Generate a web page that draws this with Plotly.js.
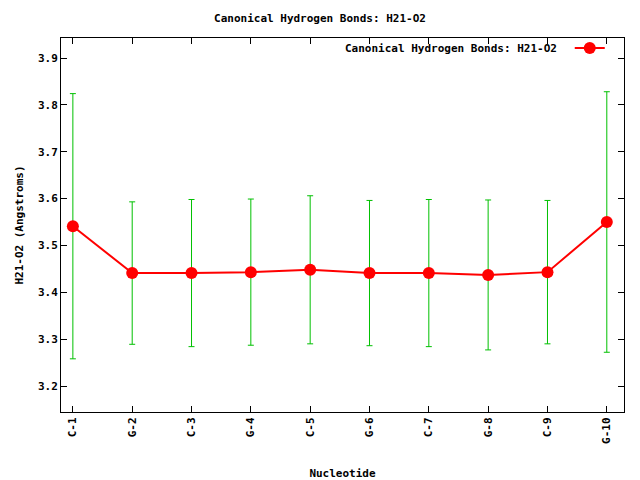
<!DOCTYPE html>
<html>
<head>
<meta charset="utf-8">
<script src="https://cdn.plot.ly/plotly-3.0.1.min.js"></script>
<style>body{margin:0;padding:0;background:#fff;}#chart{width:640px;height:480px;}</style>
</head>
<body>
<div id="chart"></div>
<script>
const nucleotides = ["C-1","G-2","C-3","G-4","C-5","G-6","C-7","G-8","C-9","G-10"];
const positions = [1,2,3,4,5,6,7,8,9,10];
const meanDist = [3.541,3.441,3.441,3.443,3.448,3.441,3.441,3.437,3.443,3.550];
const stdDev = [0.283,0.152,0.157,0.156,0.158,0.155,0.157,0.160,0.153,0.278];
const seriesName = "Canonical Hydrogen Bonds: H21-O2";

const F = "DejaVu Sans Mono, monospace";
const font = {family: F, size: 11, color: "#000", weight: "bold"};

const traces = [
  {
    x: positions, y: meanDist, type: "scatter", mode: "markers",
    marker: {size: 0.1, color: "rgba(0,0,0,0)"},
    error_y: {type: "data", array: stdDev, visible: true, color: "#00c000", thickness: 1, width: 3},
    showlegend: false, hoverinfo: "skip"
  },
  {
    x: positions, y: meanDist, type: "scatter", mode: "lines+markers",
    name: " ",
    line: {color: "#ff0000", width: 2},
    marker: {color: "#ff0000", size: 12, symbol: "circle"},
    showlegend: true
  }
];

const axisCommon = {
  showline: true, linecolor: "#000", linewidth: 1, mirror: "ticks",
  ticks: "inside", ticklen: 6, tickcolor: "#000", tickwidth: 1,
  showgrid: false, zeroline: false, tickfont: font
};

const layout = {
  width: 640, height: 480,
  margin: {l: 61, r: 16, t: 38, b: 68},
  paper_bgcolor: "#fff", plot_bgcolor: "#fff",
  font: font,
  title: {text: seriesName, font: font, x: 0.5, xanchor: "center", y: 0.962, yanchor: "middle"},
  xaxis: Object.assign({}, axisCommon, {
    range: [0.8, 10.29], tickmode: "array", tickvals: positions, ticktext: nucleotides,
    tickangle: -90,
    title: {text: "Nucleotide", font: font, standoff: 28}
  }),
  yaxis: Object.assign({}, axisCommon, {
    range: [3.1445, 3.9427], tickmode: "array",
    tickvals: [3.2,3.3,3.4,3.5,3.6,3.7,3.8,3.9],
    ticktext: ["3.2","3.3","3.4","3.5","3.6","3.7","3.8","3.9"],
    title: {text: "H21-O2 (Angstroms)", font: font, standoff: 12}
  }),
  showlegend: true,
  legend: {x: 0.996, xanchor: "right", y: 0.973, yanchor: "middle", bgcolor: "rgba(0,0,0,0)",
           font: font, itemwidth: 30, tracegroupgap: 0},
  annotations: [{
    text: seriesName, xref: "paper", yref: "paper", x: 0.884, y: 0.973,
    xanchor: "right", yanchor: "middle", showarrow: false, font: font
  }]
};

Plotly.newPlot("chart", traces, layout, {displayModeBar: false, staticPlot: true});
</script>
</body>
</html>
